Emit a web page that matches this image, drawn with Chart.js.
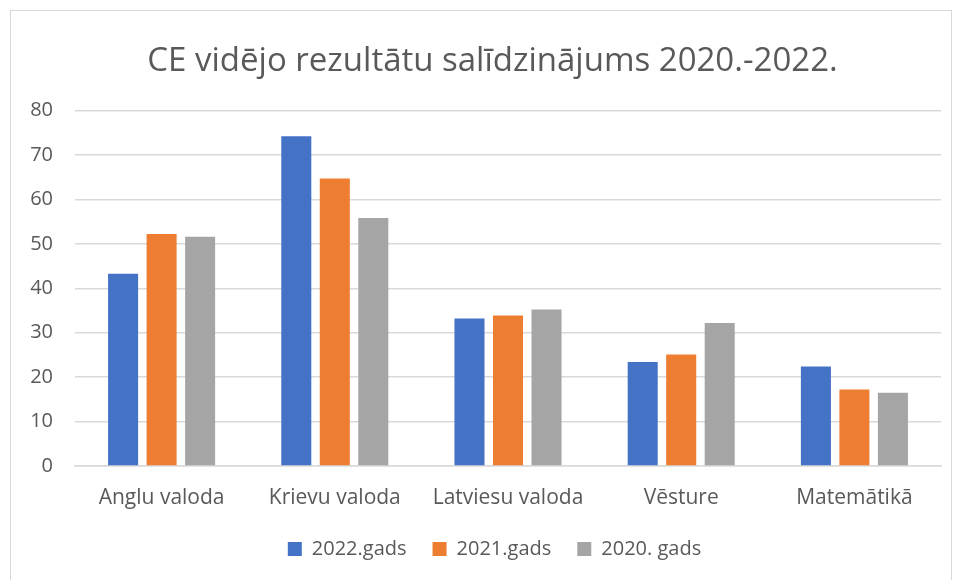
<!DOCTYPE html>
<html>
<head>
<meta charset="utf-8">
<script src="https://cdn.jsdelivr.net/npm/chart.js@4.4.1/dist/chart.umd.min.js"></script>
<style>
    html, body { margin: 0; padding: 0; background: #fff; }
    #frame {
        position: absolute; left: 10px; top: 10px;
        width: 942px; height: 600px;
        border: 1px solid #d9d9d9; box-sizing: border-box;
    }
    #wrap { position: absolute; left: 0; top: 0; width: 960px; height: 580px; }
</style>
</head>
<body>
<div id="frame"></div>
<div id="wrap"><canvas id="chartResults"></canvas></div>
<script>
const categories = ['Anglu valoda', 'Krievu valoda', 'Latviesu valoda', 'Vēsture', 'Matemātikā']
const seriesNames = ['2022.gads', '2021.gads', '2020. gads']
const values2022 = [43.3, 74.2, 33.2, 23.4, 22.4]
const values2021 = [52.2, 64.7, 33.9, 25.1, 17.2]
const values2020 = [51.6, 55.8, 35.2, 32.2, 16.5]
const yTicks = [0, 10, 20, 30, 40, 50, 60, 70, 80]
const colors = ['#4472c4', '#ed7d31', '#a5a5a5']

const textColor = '#595959'
const gridColor = '#d9d9d9'
const fontFamily = '"Open Sans", sans-serif'

// title and legend sit a bit right of the canvas centre in the original
const shiftBoxes = {
    id : 'shiftBoxes',
    afterLayout(chart) {
        if (chart.titleBlock) { chart.titleBlock.left += 22; chart.titleBlock.right += 22 }
        if (chart.legend) { chart.legend.left += 24; chart.legend.right += 24 }
    }
}

const contextResults = document.getElementById('chartResults').getContext('2d')
const chartResults = new Chart(contextResults, {
    type : 'bar',
    data : {
        labels : categories,
        datasets : [values2022, values2021, values2020].map((v, i) => ({
            label : seriesNames[i],
            data : v,
            backgroundColor : colors[i],
            borderWidth : 0,
            categoryPercentage : 0.667,
            barPercentage : 0.78
        }))
    },
    options : {
        responsive : true,
        maintainAspectRatio : false,
        animation : false,
        layout : { padding : { left : 0, right : 19, top : 0, bottom : 11 } },
        plugins : {
            title : {
                display : true,
                text : 'CE vidējo rezultātu salīdzinājums 2020.-2022.',
                color : textColor,
                font : { family : fontFamily, size : 33, weight : 'normal', lineHeight : 1.2 },
                padding : { top : 42, bottom : 29 }
            },
            legend : {
                position : 'bottom',
                labels : {
                    color : textColor,
                    font : { family : fontFamily, size : 20 },
                    boxWidth : 14,
                    boxHeight : 14,
                    padding : 26
                }
            },
            tooltip : { enabled : false }
        },
        scales : {
            x : {
                grid : { display : false },
                border : { color : gridColor, width : 1.5 },
                ticks : { color : textColor, font : { family : fontFamily, size : 21 }, padding : 11 },
                afterFit : s => { s.height = 47 }
            },
            y : {
                min : 0,
                max : 80,
                afterBuildTicks : s => { s.ticks = yTicks.map(v => ({ value : v })) },
                grid : { color : gridColor, lineWidth : 1.5, drawTicks : false },
                border : { display : false },
                ticks : { color : textColor, font : { family : fontFamily, size : 20 }, padding : 22 },
                afterFit : s => { s.width = 75 }
            }
        }
    },
    plugins : [shiftBoxes]
})
</script>
</body>
</html>
